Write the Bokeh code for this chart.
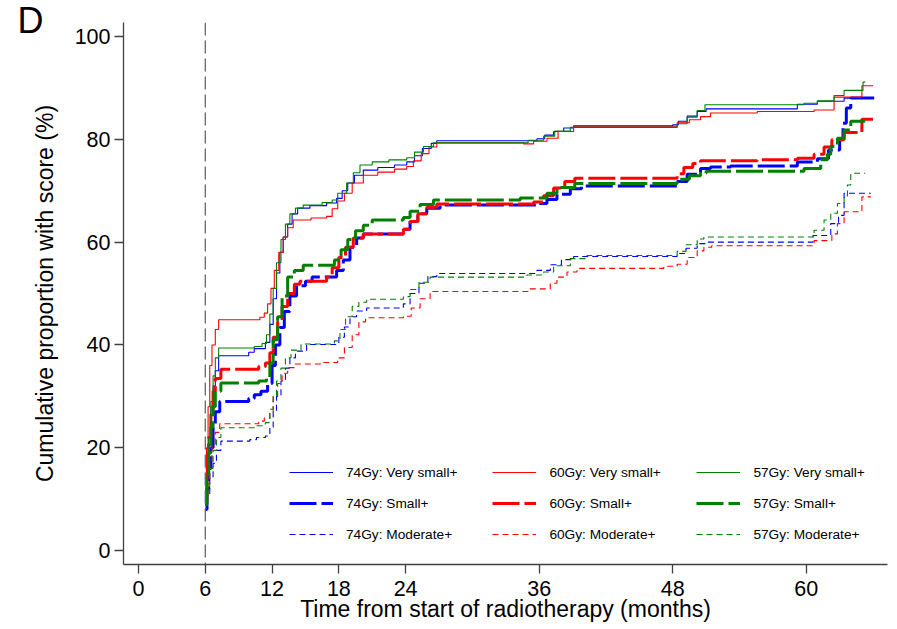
from bokeh.plotting import figure
from bokeh.models import Range1d, FixedTicker, Span, Legend, LegendItem, Title
from bokeh.embed import file_html
from bokeh.resources import INLINE

x_ticks = [0, 6, 12, 18, 24, 36, 48, 60]
y_ticks = [0, 20, 40, 60, 80, 100]

# 74Gy
t_74_vs = [6.0, 6.15, 6.3, 6.5, 6.7, 6.9, 7.2, 9.9, 10.4, 11.4, 11.8, 12.1, 12.4, 12.7, 13.0, 13.4, 13.8, 14.3, 15.4, 16.9, 17.8, 18.3, 18.8, 19.4, 20.2, 21.5, 23.0, 24.1, 24.8, 25.5, 26.3, 26.8, 35.8, 36.5, 37.3, 38.2, 39.1, 48.0, 48.5, 49.3, 50.2, 51.0, 59.2, 61.0, 63.4, 66.1]
y_74_vs = [9, 16, 22, 28, 32, 35, 37.9, 38.6, 39.3, 40.5, 44, 49, 54, 58, 61, 63.5, 65.5, 66.6, 67.1, 67.6, 68.5, 70, 71.5, 73, 74.0, 74.5, 75.0, 75.6, 76.8, 78.2, 79.2, 79.7, 80.1, 80.8, 81.5, 82.2, 82.6, 82.8, 83.5, 84.5, 85.4, 85.9, 86.8, 87.4, 88.0, 88.0]
t_74_s = [6.0, 6.15, 6.3, 6.5, 6.7, 6.9, 7.3, 9.9, 10.4, 11.0, 11.6, 12.0, 12.3, 12.7, 13.1, 13.6, 14.2, 15.0, 15.6, 17.8, 18.4, 19.0, 19.6, 20.2, 23.8, 24.4, 25.1, 25.9, 27.1, 35.8, 36.7, 37.6, 38.8, 39.8, 48.4, 49.3, 50.5, 51.4, 53.2, 59.2, 61.0, 62.0, 63.0, 63.3, 63.6, 64.0, 66.1]
y_74_s = [8, 12, 16, 20, 24, 27, 29.0, 29.6, 30.3, 31.0, 32.5, 36, 40, 43.4, 46.5, 49.5, 51.5, 52.4, 53.2, 54.5, 56.5, 59, 60.8, 61.6, 62.5, 64.0, 65.5, 66.6, 67.2, 67.5, 68.3, 69.3, 70.4, 70.9, 71.8, 73.2, 74.3, 74.6, 74.8, 75.6, 76.2, 77.9, 79.9, 83.1, 86.1, 88.0, 88.0]
t_74_m = [6.0, 6.2, 6.4, 6.7, 7.0, 7.4, 10.0, 10.6, 11.4, 11.8, 12.1, 12.4, 12.8, 13.2, 13.6, 14.1, 15.1, 18.0, 18.5, 19.0, 19.6, 20.5, 23.8, 24.4, 25.2, 26.0, 26.8, 35.8, 37.0, 38.0, 39.1, 48.4, 49.2, 50.2, 51.0, 60.6, 62.2, 62.9, 63.4, 65.8]
y_74_m = [8, 11, 14, 17, 19.5, 21.3, 21.6, 22.0, 22.3, 24, 27, 30, 33, 35.5, 37.5, 38.8, 40.1, 41.5, 43.5, 45.5, 46.6, 47.2, 48.0, 50.0, 52.0, 53.3, 53.9, 54.5, 55.6, 56.6, 57.2, 57.8, 58.8, 59.7, 60.0, 61.3, 63.6, 65.2, 69.5, 69.5]

# 60Gy
t_60_vs = [6.0, 6.1, 6.25, 6.4, 6.6, 6.9, 7.2, 10.9, 11.3, 11.6, 11.9, 12.2, 12.6, 13.0, 13.4, 13.9, 15.5, 16.9, 17.4, 17.9, 18.5, 19.2, 20.2, 21.5, 23.0, 24.1, 24.7, 25.4, 26.1, 26.8, 34.6, 35.5, 36.7, 37.7, 39.1, 48.4, 49.5, 50.5, 51.4, 55.6, 60.7, 62.5, 65.0, 66.0]
y_60_vs = [12, 20, 28, 36, 40, 43, 44.9, 45.4, 46.2, 48, 51, 54.5, 58, 61, 62.8, 64.3, 64.7, 65.0, 66.5, 68, 69.5, 71.5, 73.0, 73.6, 74.2, 74.7, 75.8, 77.2, 78.5, 79.3, 79.1, 79.6, 80.2, 81.5, 82.4, 83.2, 83.8, 84.4, 85.1, 85.4, 85.7, 88.2, 90.4, 90.4]
t_60_s = [6.0, 6.15, 6.3, 6.5, 6.7, 6.9, 7.4, 10.8, 11.4, 11.8, 12.1, 12.5, 12.9, 13.4, 14.0, 14.5, 16.9, 17.4, 18.0, 18.6, 19.3, 20.2, 23.8, 24.4, 25.1, 25.9, 26.8, 35.5, 36.4, 37.3, 38.3, 39.2, 48.4, 49.0, 49.8, 50.5, 55.6, 59.2, 60.7, 61.6, 62.3, 63.4, 65.0, 66.0]
y_60_s = [10, 16, 22, 27, 31, 33.5, 35.3, 35.8, 36.5, 38.5, 41.5, 44.5, 47.5, 50, 51.8, 52.4, 53.2, 55, 57, 59, 60.8, 61.6, 62.5, 64.0, 65.5, 66.8, 67.4, 67.8, 69.0, 70.5, 71.8, 72.4, 73.3, 74.5, 75.3, 75.8, 76.0, 76.3, 77.1, 78.5, 79.9, 81.3, 83.9, 83.9]
t_60_m = [6.0, 6.2, 6.4, 6.6, 6.9, 7.3, 10.8, 11.3, 11.8, 12.1, 12.5, 12.9, 13.4, 14.0, 16.5, 17.9, 18.5, 19.2, 19.8, 20.4, 23.8, 24.5, 25.3, 26.2, 35.0, 37.0, 37.6, 38.5, 39.4, 47.2, 48.4, 49.3, 50.2, 50.8, 51.5, 60.7, 62.3, 62.8, 63.4, 65.0, 65.8]
y_60_m = [9, 13, 17, 20.5, 23, 24.7, 25.2, 25.8, 27.5, 30, 32.5, 34.5, 35.6, 36.3, 36.6, 37.5, 39.5, 42, 44.5, 45.3, 45.6, 47.2, 49.0, 50.4, 50.9, 52.0, 53.2, 54.2, 54.9, 55.3, 55.7, 57.0, 58.3, 59.0, 59.3, 60.3, 61.6, 63.6, 65.9, 68.8, 68.8]

# 57Gy
t_57_vs = [6.0, 6.15, 6.3, 6.5, 6.7, 6.9, 7.2, 10.4, 11.1, 11.5, 11.8, 12.1, 12.4, 12.8, 13.2, 13.6, 14.1, 14.8, 16.5, 17.4, 17.9, 18.7, 19.3, 19.9, 21.0, 22.5, 24.1, 24.8, 25.6, 26.5, 35.0, 36.4, 37.4, 38.8, 48.4, 49.3, 50.2, 50.9, 59.8, 61.0, 62.5, 63.4, 65.1, 65.3]
y_57_vs = [9, 15, 22, 29, 34, 37.5, 39.4, 39.7, 40.3, 42, 46, 51, 56, 60.5, 63.5, 65.5, 66.6, 67.2, 67.7, 68.2, 69.5, 71.5, 73.5, 75.0, 75.6, 76.0, 76.4, 77.5, 78.6, 79.3, 79.8, 80.6, 81.6, 82.3, 83.0, 84.3, 85.6, 86.7, 87.0, 87.5, 88.5, 89.5, 91.1, 91.1]
t_57_s = [6.0, 6.15, 6.3, 6.5, 6.7, 6.9, 7.4, 10.8, 11.5, 11.8, 12.1, 12.5, 12.9, 13.4, 14.0, 14.8, 17.6, 18.2, 18.8, 19.5, 20.2, 21.0, 23.8, 24.4, 25.3, 26.5, 34.3, 36.7, 37.6, 39.2, 48.4, 49.5, 50.5, 51.0, 59.8, 61.3, 61.9, 62.2, 62.8, 63.4, 64.0, 65.3]
y_57_s = [9, 14, 19, 24, 28, 31, 32.6, 33.0, 33.7, 36.5, 41, 45.5, 49.5, 53.2, 54.5, 55.5, 56.5, 58.5, 60.5, 62.2, 63.3, 64.3, 64.8, 66.0, 67.3, 68.2, 68.6, 69.5, 70.6, 71.4, 72.2, 72.9, 73.4, 73.8, 74.3, 76.0, 77.1, 78.6, 80.2, 81.8, 83.5, 83.5]
t_57_m = [6.0, 6.2, 6.4, 6.7, 7.0, 7.4, 10.6, 11.4, 11.8, 12.1, 12.4, 12.8, 13.2, 13.7, 14.6, 17.6, 18.1, 18.6, 19.2, 19.8, 20.5, 23.8, 24.4, 25.2, 26.2, 34.9, 36.4, 37.3, 38.8, 40.3, 48.4, 49.2, 50.2, 50.8, 60.7, 61.6, 62.2, 62.8, 63.4, 63.7, 64.0, 65.3]
y_57_m = [9, 12.5, 16, 19.5, 22, 23.9, 24.3, 24.9, 27, 30, 33, 35.5, 37.5, 39.0, 40.2, 40.8, 43, 45.5, 47.5, 48.3, 48.9, 49.4, 50.8, 52.2, 53.2, 53.6, 54.2, 55.4, 56.8, 57.4, 58.2, 59.5, 60.6, 61.0, 62.3, 64.3, 65.6, 67.5, 68.8, 71.1, 73.4, 73.4]

groups = ["74Gy", "60Gy", "57Gy"]
levels = ["Very small+", "Small+", "Moderate+"]
series = {
    ("74Gy", "Very small+"): (t_74_vs, y_74_vs),
    ("74Gy", "Small+"): (t_74_s, y_74_s),
    ("74Gy", "Moderate+"): (t_74_m, y_74_m),
    ("60Gy", "Very small+"): (t_60_vs, y_60_vs),
    ("60Gy", "Small+"): (t_60_s, y_60_s),
    ("60Gy", "Moderate+"): (t_60_m, y_60_m),
    ("57Gy", "Very small+"): (t_57_vs, y_57_vs),
    ("57Gy", "Small+"): (t_57_s, y_57_s),
    ("57Gy", "Moderate+"): (t_57_m, y_57_m),
}

colors = {"74Gy": "#0000ff", "60Gy": "#ff0000", "57Gy": "#008000"}
styles = {
    "Very small+": dict(line_width=1.1, line_dash="solid"),
    "Small+": dict(line_width=3, line_dash="27 5"),
    "Moderate+": dict(line_width=1.1, line_dash="6 4"),
}

FONT = "Liberation Sans"

p = figure(width=897, height=629, output_backend="svg", toolbar_location=None,
           x_range=Range1d(-1.35, 67.3), y_range=Range1d(-2.68, 102.7),
           min_border_left=123, min_border_right=10, min_border_top=22,
           min_border_bottom=65)
p.outline_line_color = None
p.grid.visible = False
p.background_fill_color = "white"
p.border_fill_color = "white"

p.xaxis.ticker = FixedTicker(ticks=x_ticks)
p.yaxis.ticker = FixedTicker(ticks=y_ticks)
p.xaxis.axis_label = "Time from start of radiotherapy (months)"
p.yaxis.axis_label = "Cumulative proportion with score (%)"
for ax in (p.xaxis, p.yaxis):
    ax.axis_line_color = "#404040"
    ax.axis_line_width = 1.3
    ax.major_tick_line_color = "#404040"
    ax.major_tick_line_width = 1.3
    ax.major_tick_out = 9
    ax.major_tick_in = 0
    ax.minor_tick_line_color = None
    ax.major_label_text_font = FONT
    ax.major_label_text_font_size = "21.5px"
    ax.major_label_text_color = "black"
    ax.axis_label_text_font = FONT
    ax.axis_label_text_font_size = "23px"
    ax.axis_label_text_font_style = "normal"
    ax.axis_label_text_color = "black"
p.xaxis.major_label_standoff = 7
p.xaxis.axis_label_standoff = -3
p.yaxis.major_label_standoff = 4
p.yaxis.axis_label_standoff = 14

p.add_layout(Span(location=6, dimension="height", line_color="#666666",
                  line_width=1.3, line_dash="13 5"))

renderers = {}
for g in groups:
    for lv in levels:
        t, y = series[(g, lv)]
        r = p.step(x=t, y=y, mode="after", line_color=colors[g], **styles[lv])
        renderers[(g, lv)] = r

legend_x = {"74Gy": 166, "60Gy": 369.4, "57Gy": 573.4}
for g in groups:
    items = [LegendItem(label=f"{g}: {lv}", renderers=[renderers[(g, lv)]]) for lv in levels]
    leg = Legend(items=items, location=(legend_x[g], 20), orientation="vertical",
                 border_line_color=None, background_fill_alpha=0, padding=0, margin=0,
                 spacing=11, glyph_width=44, glyph_height=20, label_height=20,
                 label_standoff=13, label_text_font=FONT, label_text_font_size="13.7px",
                 label_text_color="black")
    p.add_layout(leg, "center")

# panel letter
p.add_layout(Title(text="D", align="left", vertical_align="bottom", offset=-106,
                   standoff=-36, text_font=FONT, text_font_size="36px",
                   text_font_style="normal", text_color="black"), "above")

open("out.html", "w").write(file_html(p, INLINE))
